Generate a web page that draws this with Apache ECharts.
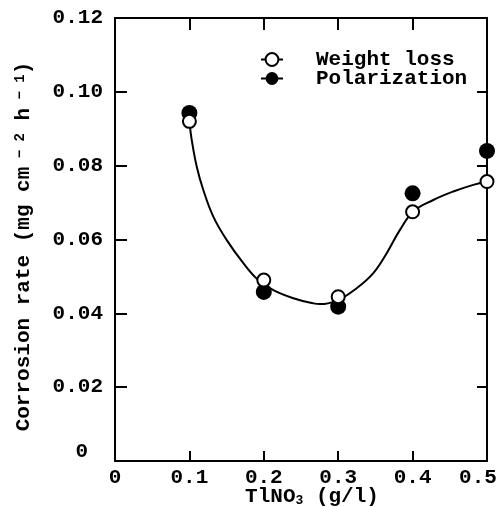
<!DOCTYPE html>
<html><head><meta charset="utf-8">
<script src="https://cdn.jsdelivr.net/npm/echarts@6/dist/echarts.min.js"></script>
<style>html,body{margin:0;padding:0;background:#fff}#c{width:497px;height:507px}</style>
</head><body><div id="c"></div>
<script>
const concentrations = [0.1, 0.2, 0.3, 0.4, 0.5];
const weightLoss = [0.092, 0.049, 0.0445, 0.0675, 0.0757];
const polarization = [0.0943, 0.0458, 0.0418, 0.0725, 0.0840];
const curveX = [0.1, 0.1031, 0.1098, 0.1187, 0.1321, 0.150, 0.1725, 0.1926, 0.2128, 0.2397, 0.2666, 0.2755, 0.3001, 0.3248, 0.3472, 0.3652, 0.383, 0.401, 0.4278, 0.4547, 0.4816, 0.5];
const curveY = [0.092, 0.087, 0.0798, 0.0734, 0.0662, 0.0599, 0.0536, 0.049, 0.0463, 0.0441, 0.0427, 0.0425, 0.0436, 0.0468, 0.0509, 0.0563, 0.0626, 0.0676, 0.0707, 0.073, 0.0748, 0.0757];
const xTickLabels = ['0', '0.1', '0.2', '0.3', '0.4', '0.5'];
const yTickLabels = ['0', '0.02', '0.04', '0.06', '0.08', '0.10', '0.12'];

const FONT = 'Liberation Mono';
const baseText = {fontFamily: FONT, fontSize: 21, fontWeight: 'bold', color: '#000'};
const axisLine = {show: true, onZero: false, lineStyle: {color: '#000', width: 2}};
const tick = (len) => ({show: true, inside: true, length: len, lineStyle: {color: '#000', width: 2}});

const chart = echarts.init(document.getElementById('c'), null, {renderer: 'canvas'});
chart.setOption({
  animation: false,
  backgroundColor: '#fff',
  grid: {left: 115, right: 10, top: 18, bottom: 46, containLabel: false, outerBoundsMode: 'none'},
  legend: {
    orient: 'vertical', left: 255, top: 44,
    itemWidth: 22, itemHeight: 16, itemGap: -2,
    data: ['Weight loss', 'Polarization'],
    lineStyle: {color: '#000', width: 2, opacity: 1},
    textStyle: Object.assign({}, baseText, {padding: [0, 0, 0, 28], lineHeight: 19})
  },
  xAxis: [{
    type: 'value', min: 0, max: 0.5, interval: 0.1, position: 'bottom',
    axisLine: axisLine, axisTick: tick(10), splitLine: {show: false},
    axisLabel: Object.assign({}, baseText, {
      margin: 6,
      formatter: v => {
        const i = Math.round(v / 0.1);
        return i === xTickLabels.length - 1 ? '{m|' + xTickLabels[i] + '}' : xTickLabels[i];
      },
      rich: {m: Object.assign({}, baseText, {padding: [0, 18, 0, 0]})}
    }),
    name: '{a|TlNO}{s|3}{a| (g/l)}', nameLocation: 'middle', nameGap: 25, nameMoveOverlap: false,
    nameTextStyle: {rich: {
      a: Object.assign({}, baseText, {}),
      s: Object.assign({}, baseText, {fontSize: 13, verticalAlign: 'bottom', padding: [8, 0, 0, 0]})
    }, padding: [0, 0, 0, 22]}
  }, {
    type: 'value', min: 0, max: 0.5, interval: 0.1, position: 'top',
    axisLine: axisLine, axisTick: tick(12), axisLabel: {show: false}, splitLine: {show: false}
  }],
  yAxis: [{
    type: 'value', min: 0, max: 0.12, interval: 0.02, position: 'left',
    axisLine: axisLine, axisTick: tick(12), splitLine: {show: false},
    axisLabel: Object.assign({}, baseText, {
      margin: 12,
      formatter: v => {
        const i = Math.round(v / 0.02);
        return i === 0 ? '{z|' + yTickLabels[i] + '}' : yTickLabels[i];
      },
      rich: {z: Object.assign({}, baseText, {padding: [0, 15, 18, 0]})}
    }),
    name: '{a|Corrosion rate (mg cm}{s| − 2}{a| h}{s| − 1}{a|)}',
    nameLocation: 'middle', nameRotate: 90, nameGap: 81, nameMoveOverlap: false,
    nameTextStyle: {padding: [0, 14, 0, 0], rich: {
      a: Object.assign({}, baseText, {lineHeight: 21, verticalAlign: 'bottom'}),
      s: Object.assign({}, baseText, {fontSize: 14, lineHeight: 14, verticalAlign: 'top', padding: [0, 0, 10, 0]})
    }}
  }, {
    type: 'value', min: 0, max: 0.12, interval: 0.02, position: 'right',
    axisLine: axisLine, axisTick: tick(10), axisLabel: {show: false}, splitLine: {show: false}
  }],
  series: [{
    name: 'curve', type: 'line', silent: true, smooth: 0.4,
    data: curveX.map((x, i) => [x, curveY[i]]),
    symbol: 'none', lineStyle: {color: '#000', width: 2}, z: 2, clip: false
  }, {
    name: 'Polarization', type: 'line',
    data: concentrations.map((x, i) => [x, polarization[i]]),
    symbol: 'circle', symbolSize: 16,
    itemStyle: {color: '#000'}, lineStyle: {width: 0, opacity: 0}, z: 3, clip: false
  }, {
    name: 'Weight loss', type: 'line',
    data: concentrations.map((x, i) => [x, weightLoss[i]]),
    symbol: 'circle', symbolSize: 13,
    itemStyle: {color: '#fff', borderColor: '#000', borderWidth: 2},
    lineStyle: {width: 0, opacity: 0}, z: 4, clip: false
  }]
});
</script></body></html>
